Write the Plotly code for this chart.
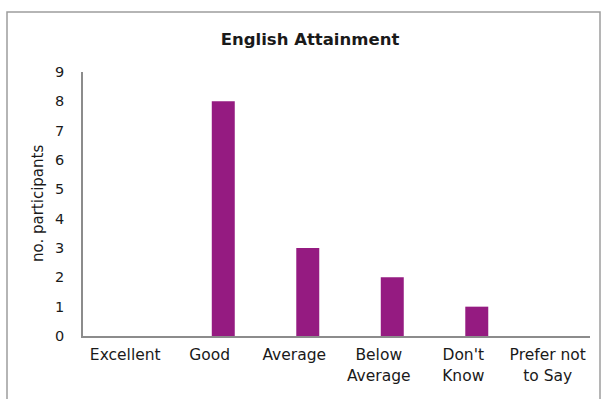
import plotly.graph_objects as go

# Survey responses: self-rated English attainment
categories = ["Excellent", "Good", "Average", "Below<br>Average", "Don't<br>Know", "Prefer not<br>to Say"]
participants = [0, 8, 3, 2, 1, 0]
y_ticks = list(range(0, 10))

bar_color = "#951b81"
axis_color = "#8c8c8c"
text_font = "DejaVu Sans, Arial, sans-serif"

fig = go.Figure(
    go.Bar(
        x=categories,
        y=participants,
        marker=dict(color=bar_color, line=dict(width=0)),
        width=0.272,
        offset=0.024,
        hoverinfo="x+y",
    )
)

fig.update_layout(
    width=606,
    height=399,
    margin=dict(l=83, r=16, t=72, b=63),
    paper_bgcolor="white",
    plot_bgcolor="white",
    showlegend=False,
    font=dict(family=text_font, size=15, color="#1a1a1a"),
    title=dict(
        text="<b>English Attainment</b>",
        font=dict(family="DejaVu Sans, Arial, sans-serif", size=16.5, color="#1a1a1a"),
        x=310 / 606,
        xanchor="center",
        xref="container",
        y=1 - 39 / 399,
        yanchor="middle",
        yref="container",
    ),
    xaxis=dict(
        type="category",
        showline=True,
        linecolor=axis_color,
        linewidth=1.5,
        showgrid=False,
        ticks="",
        tickfont=dict(size=15.5),
        ticklabelstandoff=4,
        range=[-0.5, 5.5],
    ),
    yaxis=dict(
        range=[0, 9],
        tickvals=y_ticks,
        showline=True,
        linecolor=axis_color,
        linewidth=1.5,
        showgrid=False,
        zeroline=False,
        ticks="",
        tickfont=dict(size=14.5),
        ticklabelstandoff=14,
    ),
    annotations=[
        dict(
            text="no. participants",
            xref="paper",
            yref="paper",
            x=0,
            y=0.5,
            xshift=-45,
            xanchor="center",
            yanchor="middle",
            textangle=-90,
            showarrow=False,
            font=dict(family=text_font, size=15, color="#1a1a1a"),
        )
    ],
    shapes=[
        # chart frame around the whole figure
        dict(
            type="rect",
            xref="paper",
            yref="paper",
            x0=(7 - 83) / 507,
            x1=(600 - 83) / 507,
            y0=(336 - 410) / 264,
            y1=(336 - 12) / 264,
            line=dict(color="#9d9d9d", width=1.5),
            fillcolor="rgba(0,0,0,0)",
            layer="below",
        )
    ],
)

fig.write_html("out.html")
